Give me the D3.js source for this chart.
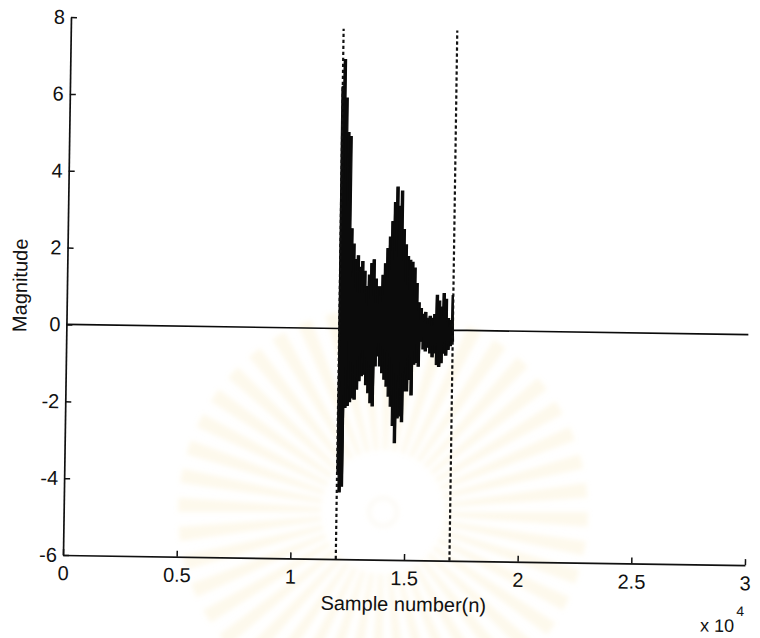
<!DOCTYPE html>
<html>
<head>
<meta charset="utf-8">
<script src="https://cdn.jsdelivr.net/npm/d3@7"></script>
<style>
  html, body { margin: 0; padding: 0; background: #ffffff; }
  svg { display: block; }
  text { font-family: "Liberation Sans", Arial, Helvetica, sans-serif; fill: #111; }
</style>
</head>
<body>
<svg id="chart" width="760" height="638"></svg>
<script>
// Axis ticks
const xTickValues = [0, 5000, 10000, 15000, 20000, 25000, 30000];
const xTickLabels = ["0", "0.5", "1", "1.5", "2", "2.5", "3"];
const yTickValues = [-6, -4, -2, 0, 2, 4, 6, 8];

// Recording length and the active segment (samples)
const totalSamples = 30000;
const segmentStart = 12000;
const segmentEnd = 17000;
const segmentStep = 100;

// Positive and negative peak of every 100-sample block inside the active segment
const upperPeaks = [
  6.3, 7.0, 6.0, 5.1, 5.0, 2.6, 2.2, 1.8, 1.9, 1.6,
  1.75, 1.5, 1.1, 1.4, 1.7, 1.8, 1.3, 1.1, 1.1, 1.4,
  1.7, 2.1, 2.4, 2.8, 3.3, 3.7, 3.2, 3.6, 2.6, 2.2,
  1.9, 1.8, 1.75, 1.6, 1.2, 0.7, 0.55, 0.4, 0.45, 0.3,
  0.35, 0.3, 0.4, 0.9, 0.75, 0.6, 0.95, 0.8, 0.3, 0.25,
  0.9
];
const lowerPeaks = [
  -3.8, -4.25, -4.1, -2.05, -2.0, -1.9, -1.8, -1.83, -1.57, -1.35,
  -1.22, -1.18, -1.45, -1.66, -1.92, -2.0, -0.96, -0.7, -0.96, -1.13,
  -1.3, -1.48, -1.74, -2.0, -2.5, -2.95, -2.3, -2.25, -2.4, -1.6,
  -1.6, -1.3, -1.7, -0.9, -0.85, -0.95, -0.3, -0.5, -0.55, -0.45,
  -0.6, -0.7, -0.6, -0.9, -0.95, -0.85, -0.6, -0.65, -0.5, -0.4,
  -0.3
];

// Dotted markers bounding the active segment
const markerSamples = [segmentStart, segmentEnd];
const markerTop = 7.8;

const svg = d3.select("#chart");
const defs = svg.append("defs");
defs.append("filter").attr("id", "soft")
  .attr("x", "-20%").attr("y", "-20%").attr("width", "140%").attr("height", "140%")
  .append("feGaussianBlur").attr("stdDeviation", 2.5);

// Faint sunburst emblem printed on the page behind the figure
const emblem = svg.append("g")
  .attr("transform", "translate(383,512)")
  .attr("filter", "url(#soft)");
const rayCount = 44;
const ray = d3.arc().innerRadius(62).outerRadius(205);
for (let i = 0; i < rayCount; i++) {
  const a = (i / rayCount) * 2 * Math.PI;
  emblem.append("path")
    .attr("d", ray({ startAngle: a, endAngle: a + (2 * Math.PI / rayCount) * 0.5 }))
    .attr("fill", "#f6e3a2")
    .attr("opacity", 0.2);
}
emblem.append("circle").attr("r", 14).attr("fill", "none")
  .attr("stroke", "#f1e2c6").attr("stroke-width", 3).attr("opacity", 0.25);

// Whole figure, slightly turned
const plot = svg.append("g").attr("transform", "rotate(0.85,63,555)");

const x = d3.scaleLinear().domain([0, totalSamples]).range([63, 745]);
const y = d3.scaleLinear().domain([-6, 8]).range([555, 17]);

// Block envelope of the active segment, drawn solid
const blocks = upperPeaks.map((u, i) => ({
  s: segmentStart + i * segmentStep, hi: u, lo: lowerPeaks[i]
}));
plot.append("path")
  .datum(blocks)
  .attr("fill", "#0b0b0b")
  .attr("stroke", "#0b0b0b")
  .attr("stroke-width", 1.2)
  .attr("d", d3.area().curve(d3.curveStep)
    .x(d => x(d.s)).y0(d => y(d.lo)).y1(d => y(d.hi)));

// Signal: silent lead-in, zig-zag between block peaks, silent tail
const signal = [[0, 0], [segmentStart, 0]];
blocks.forEach(b => {
  signal.push([b.s - 25, b.hi]);
  signal.push([b.s + 25, b.lo]);
});
signal.push([segmentEnd, 0], [totalSamples, 0]);

plot.append("path")
  .datum(signal)
  .attr("fill", "none")
  .attr("stroke", "#0b0b0b")
  .attr("stroke-width", 1.7)
  .attr("d", d3.line().x(d => x(d[0])).y(d => y(d[1])));

// Dotted segment markers
plot.selectAll("line.marker")
  .data(markerSamples)
  .join("line")
  .attr("class", "marker")
  .attr("x1", d => x(d)).attr("x2", d => x(d))
  .attr("y1", y(-6)).attr("y2", y(markerTop))
  .attr("stroke", "#111")
  .attr("stroke-width", 2.2)
  .attr("stroke-dasharray", "3.4,2.6");

// Axes with inward ticks
const yAxis = d3.axisLeft(y).tickValues(yTickValues)
  .tickSizeInner(-6).tickSizeOuter(0).tickPadding(6)
  .tickFormat(d => String(d));
const xAxis = d3.axisBottom(x).tickValues(xTickValues)
  .tickSizeInner(-6).tickSizeOuter(0).tickPadding(11)
  .tickFormat((d, i) => xTickLabels[i]);

const gy = plot.append("g").attr("transform", `translate(${x(0)},0)`).call(yAxis);
const gx = plot.append("g").attr("transform", `translate(0,${y(-6)})`).call(xAxis);

[gx, gy].forEach(g => {
  g.select(".domain").attr("stroke", "#111").attr("stroke-width", 1.7);
  g.selectAll(".tick line").attr("stroke", "#111").attr("stroke-width", 1.5);
  g.selectAll(".tick text")
    .attr("font-family", "Liberation Sans, Arial, sans-serif")
    .attr("font-size", 20)
    .attr("fill", "#111");
});

// Axis titles and exponent
plot.append("text")
  .attr("transform", "translate(23,286) rotate(-90)")
  .attr("text-anchor", "middle")
  .attr("font-size", 20)
  .text("Magnitude");

plot.append("text")
  .attr("x", 404).attr("y", 606)
  .attr("text-anchor", "middle")
  .attr("font-size", 20)
  .text("Sample number(n)");

plot.append("text")
  .attr("x", 735).attr("y", 622)
  .attr("text-anchor", "end")
  .attr("font-size", 18)
  .text("x 10");
plot.append("text")
  .attr("x", 737).attr("y", 606)
  .attr("font-size", 14)
  .text("4");
</script>
</body>
</html>
